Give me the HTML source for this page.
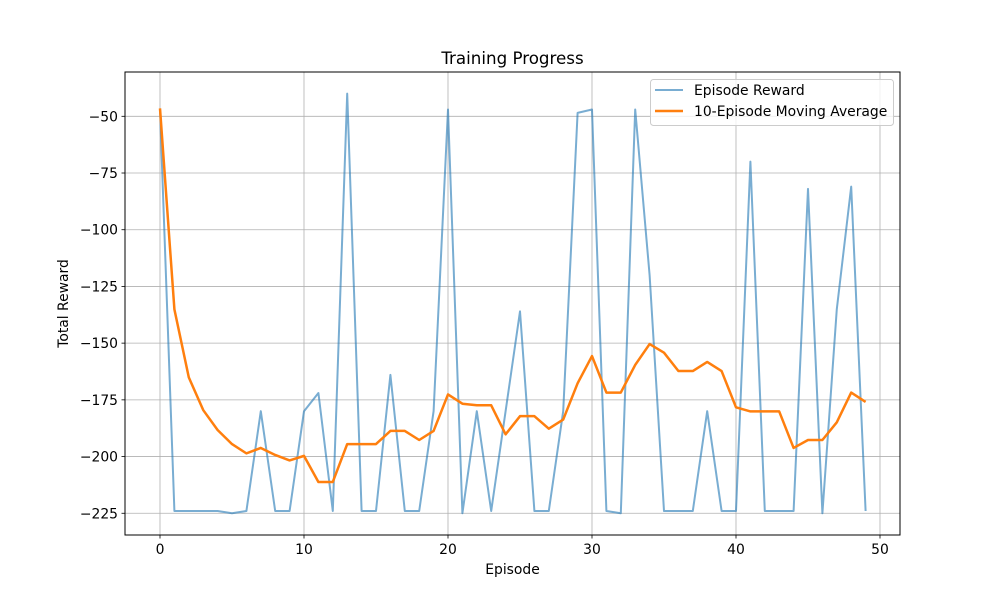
<!DOCTYPE html>
<html><head><meta charset="utf-8"><style>
body{margin:0;background:#fff}
svg{display:block;font-family:"DejaVu Sans","Liberation Sans",sans-serif}
</style></head><body>
<svg id="chart" width="1000" height="600" viewBox="0 0 1000 600" xmlns="http://www.w3.org/2000/svg">
<rect width="1000" height="600" fill="#fff"/>
<g id="grid"></g>
<g id="series"></g>
<rect x="125" y="72" width="775" height="463" fill="none" stroke="#000" stroke-width="1"/>
<g id="ticks"></g>
<text x="512.5" y="64" font-size="16.7" text-anchor="middle">Training Progress</text>
<text x="512.5" y="574" font-size="13.9" text-anchor="middle">Episode</text>
<text transform="translate(68,303.5) rotate(-90)" font-size="13.9" text-anchor="middle">Total Reward</text>
<g>
<rect x="650.5" y="79.5" width="243" height="46" rx="3" fill="#fff" fill-opacity="0.8" stroke="#ccc"/>
<line x1="655" y1="90" x2="683" y2="90" stroke="#1f77b4" stroke-opacity="0.6" stroke-width="2"/>
<text x="694" y="95" font-size="13.9">Episode Reward</text>
<line x1="655" y1="111" x2="683" y2="111" stroke="#ff7f0e" stroke-width="2.5"/>
<text x="694" y="116" font-size="13.9">10-Episode Moving Average</text>
</g>
</svg>
<script>
const episodeReward = [-47,-224,-224,-224,-224,-225,-224,-180,-224,-224,-180,-172,-224,-40,-224,-224,-164,-224,-224,-180,-47,-225,-180,-224,-180,-136,-224,-224,-180,-48.5,-47,-224,-225,-47,-120,-224,-224,-224,-180,-224,-224,-70,-224,-224,-224,-82,-225,-135,-81,-224];
const movingAverage = [-46.5,-135.1,-165.1,-179.5,-188.3,-194.5,-198.6,-196.2,-199.3,-201.7,-199.7,-211.2,-211.2,-194.5,-194.5,-194.5,-188.7,-188.7,-192.7,-188.7,-172.6,-176.7,-177.4,-177.4,-190.2,-182.2,-182.2,-187.7,-183.7,-167.7,-155.7,-171.8,-171.8,-159.6,-150.4,-154.2,-162.3,-162.3,-158.3,-162.3,-178.3,-180.1,-180.1,-180.1,-196.2,-192.7,-192.7,-184.9,-171.8,-175.9];
const xTicks = [0,10,20,30,40,50];
const yTicks = [-50,-75,-100,-125,-150,-175,-200,-225];
const NS='http://www.w3.org/2000/svg';
const X = v => 160 + v*14.4;
const Y = v => 116.3 + (-50 - v)/25*56.71;
function mk(tag, attrs, parent){const e=document.createElementNS(NS,tag);for(const k in attrs)e.setAttribute(k,attrs[k]);parent.appendChild(e);return e;}
const grid=document.getElementById('grid'), ticks=document.getElementById('ticks'), series=document.getElementById('series');
xTicks.forEach(t=>{
  const g=mk('line',{x1:X(t),x2:X(t),y1:72,y2:535,stroke:'#b0b0b0','stroke-width':0.8},grid);
  
  
  mk('line',{x1:X(t),x2:X(t),y1:535,y2:538.5,stroke:'#000','stroke-width':0.8},ticks);
  const l=mk('text',{x:X(t),y:554,'font-size':13.9,'text-anchor':'middle'},ticks);
  l.textContent=t;
  
  
});
yTicks.forEach(t=>{
  const g=mk('line',{x1:125,x2:900,y1:Y(t),y2:Y(t),stroke:'#b0b0b0','stroke-width':0.8},grid);
  
  
  mk('line',{x1:121.5,x2:125,y1:Y(t),y2:Y(t),stroke:'#000','stroke-width':0.8},ticks);
  const l=mk('text',{x:118,y:Y(t)+5,'font-size':13.9,'text-anchor':'end'},ticks);
  l.textContent='\u2212'+Math.abs(t);
  
  
});
const p1=mk('polyline',{points:episodeReward.map((v,i)=>X(i)+','+Y(v)).join(' '),fill:'none',stroke:'#1f77b4','stroke-opacity':0.6,'stroke-width':2,'stroke-linejoin':'round'},series);


const p2=mk('polyline',{points:movingAverage.map((v,i)=>X(i)+','+Y(v)).join(' '),fill:'none',stroke:'#ff7f0e','stroke-width':2.5,'stroke-linejoin':'round'},series);


</script>
</body></html>
